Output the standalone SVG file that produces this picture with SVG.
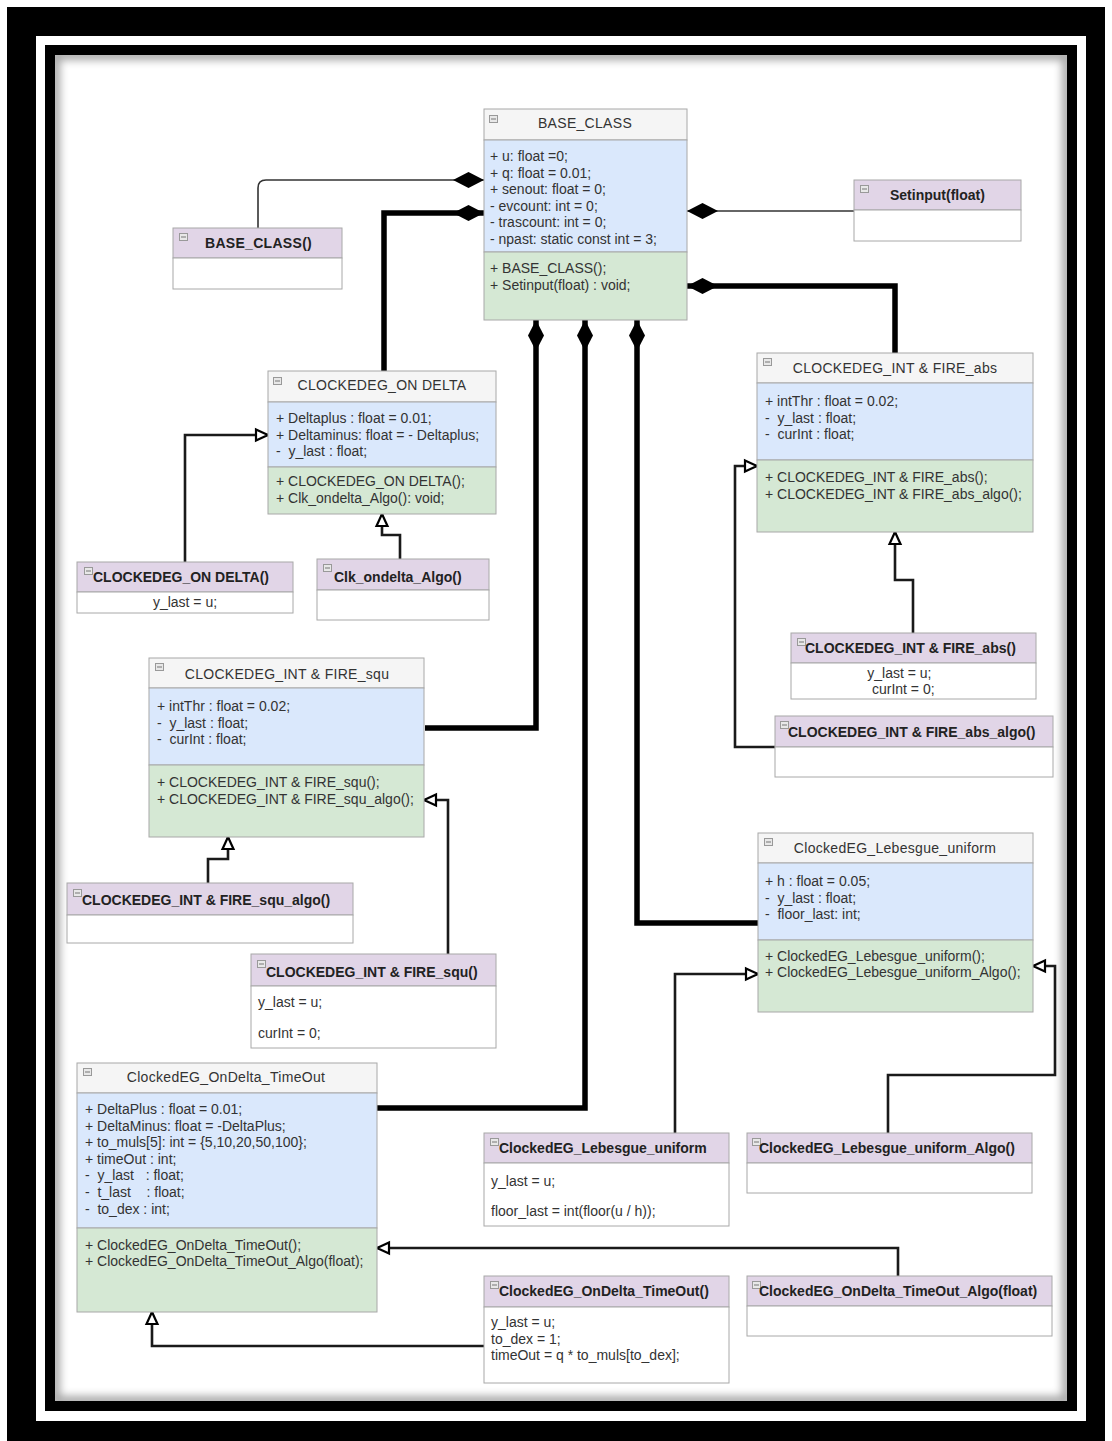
<svg xmlns="http://www.w3.org/2000/svg" width="1112" height="1441" viewBox="0 0 1112 1441">
  <defs>
    <style>
      .hdr { fill: #f5f5f5; stroke: #a8a8a8; stroke-width: 1; }
      .att { fill: #dae8fc; stroke: #a8a8a8; stroke-width: 1; }
      .mth { fill: #d5e8d4; stroke: #a8a8a8; stroke-width: 1; }
      .ph  { fill: #e1d5e7; stroke: #a8a8a8; stroke-width: 1; }
      .bd  { fill: #ffffff; stroke: #a8a8a8; stroke-width: 1; }
      .tx  { font-family: "Liberation Sans", Arial, sans-serif; font-size: 14px; fill: #333; white-space: pre; }
      .ct  { font-family: "Liberation Sans", Arial, sans-serif; font-size: 14px; fill: #333; text-anchor: middle; letter-spacing: 0.3px; }
      .bt  { font-family: "Liberation Sans", Arial, sans-serif; font-size: 14px; font-weight: bold; fill: #222; }
      .thin  { fill: none; stroke: #333; stroke-width: 1.6; }
      .inh   { fill: none; stroke: #1a1a1a; stroke-width: 2.6; }
      .comp  { fill: none; stroke: #000; stroke-width: 5.5; }
    </style>
    <symbol id="fold" viewBox="0 0 9 8" width="9" height="8">
      <rect x="0.5" y="0.5" width="8" height="7" fill="#e8e8e8" stroke="#999" stroke-width="1"/>
      <line x1="2" y1="4" x2="7" y2="4" stroke="#777" stroke-width="1"/>
    </symbol>
    <marker id="dia" markerUnits="userSpaceOnUse" markerWidth="32" markerHeight="18" refX="31" refY="9" orient="auto">
      <path d="M0,9 L15.5,1 L31,9 L15.5,17 Z" fill="#000"/>
    </marker>
    <marker id="tri" markerUnits="userSpaceOnUse" markerWidth="16" markerHeight="16" refX="14" refY="8" orient="auto">
      <path d="M2,2.5 L14,8 L2,13.5 Z" fill="#fff" stroke="#000" stroke-width="2.2" stroke-linejoin="miter"/>
    </marker>
    <clipPath id="innerClip"><rect x="55" y="55" width="1012" height="1346"/></clipPath>
    <filter id="soft" x="-5%" y="-5%" width="110%" height="110%"><feGaussianBlur stdDeviation="4"/></filter>
  </defs>

  <!-- page frame -->
  <rect x="0" y="0" width="1112" height="1441" fill="#fff"/>
  <rect x="7" y="7" width="1098" height="1434" fill="#000"/>
  <rect x="36" y="36" width="1050" height="1385" fill="#fff"/>
  <rect x="45" y="45" width="1032" height="1366" fill="#000"/>
  <rect x="55" y="55" width="1012" height="1346" fill="#fff"/>
  <g clip-path="url(#innerClip)">
    <rect x="55" y="55" width="1012" height="1346" fill="none" stroke="#000" stroke-width="10" opacity="0.35" filter="url(#soft)"/>
  </g>

  <!-- connectors -->
  <g id="connectors">
    <path class="thin" d="M258,228 V188 Q258,180 266,180 H484" marker-end="url(#dia)"/>
    <path class="comp" d="M384,371 V213 H484" marker-end="url(#dia)"/>
    <path class="thin" d="M854,211 H687" marker-end="url(#dia)"/>
    <path class="comp" d="M895,353 V286 H687" marker-end="url(#dia)"/>
    <path class="comp" d="M425,728 H536 V320" marker-end="url(#dia)"/>
    <path class="comp" d="M377,1108 H585 V320" marker-end="url(#dia)"/>
    <path class="comp" d="M758,923 H637 V320" marker-end="url(#dia)"/>

    <path class="inh" d="M185,562 V435 H268" marker-end="url(#tri)"/>
    <path class="inh" d="M400,559 V535 H382 V514" marker-end="url(#tri)"/>
    <path class="inh" d="M913,633 V580 H895 V532" marker-end="url(#tri)"/>
    <path class="inh" d="M775,747 H735 V466 H757" marker-end="url(#tri)"/>
    <path class="inh" d="M208,883 V859 H228 V837" marker-end="url(#tri)"/>
    <path class="inh" d="M448,954 V800 H424" marker-end="url(#tri)"/>
    <path class="inh" d="M675,1133 V974 H758" marker-end="url(#tri)"/>
    <path class="inh" d="M888,1133 V1075 H1055 V966 H1033" marker-end="url(#tri)"/>
    <path class="inh" d="M898,1276 V1248 H377" marker-end="url(#tri)"/>
    <path class="inh" d="M484,1346 H152 V1312" marker-end="url(#tri)"/>
  </g>

  <!-- class: BASE_CLASS -->
  <g id="base-class">
    <rect class="hdr" x="484" y="109" width="203" height="31"/>
    <rect class="att" x="484" y="140" width="203" height="112"/>
    <rect class="mth" x="484" y="252" width="203" height="68"/>
    <use href="#fold" x="489" y="115"/>
    <text class="ct" x="585" y="128">BASE_CLASS</text>
    <text class="tx">
      <tspan x="490" y="161">+ u: float =0;</tspan>
      <tspan x="490" dy="16.6">+ q: float = 0.01;</tspan>
      <tspan x="490" dy="16.6">+ senout: float = 0;</tspan>
      <tspan x="490" dy="16.6">- evcount: int = 0;</tspan>
      <tspan x="490" dy="16.6">- trascount: int = 0;</tspan>
      <tspan x="490" dy="16.6">- npast: static const int = 3;</tspan>
    </text>
    <text class="tx">
      <tspan x="490" y="273">+ BASE_CLASS();</tspan>
      <tspan x="490" dy="16.6">+ Setinput(float) : void;</tspan>
    </text>
  </g>

  <!-- operation: BASE_CLASS() -->
  <g id="op-base-class">
    <rect class="ph" x="173" y="228" width="169" height="30"/>
    <rect class="bd" x="173" y="258" width="169" height="31"/>
    <use href="#fold" x="179" y="233"/>
    <text class="bt" x="205" y="248" letter-spacing="0.3">BASE_CLASS()</text>
  </g>

  <!-- operation: Setinput(float) -->
  <g id="op-setinput">
    <rect class="ph" x="854" y="180" width="167" height="30"/>
    <rect class="bd" x="854" y="210" width="167" height="31"/>
    <use href="#fold" x="860" y="185"/>
    <text class="bt" x="890" y="200">Setinput(float)</text>
  </g>

  <!-- class: CLOCKEDEG_ON DELTA -->
  <g id="on-delta">
    <rect class="hdr" x="268" y="371" width="228" height="31"/>
    <rect class="att" x="268" y="402" width="228" height="65"/>
    <rect class="mth" x="268" y="467" width="228" height="47"/>
    <use href="#fold" x="273" y="377"/>
    <text class="ct" x="382" y="390">CLOCKEDEG_ON DELTA</text>
    <text class="tx">
      <tspan x="276" y="423">+ Deltaplus : float = 0.01;</tspan>
      <tspan x="276" dy="16.6">+ Deltaminus: float = - Deltaplus;</tspan>
      <tspan x="276" dy="16.6">-  y_last : float;</tspan>
    </text>
    <text class="tx">
      <tspan x="276" y="486">+ CLOCKEDEG_ON DELTA();</tspan>
      <tspan x="276" dy="16.6">+ Clk_ondelta_Algo(): void;</tspan>
    </text>
  </g>

  <!-- operation: CLOCKEDEG_ON DELTA() -->
  <g id="op-on-delta">
    <rect class="ph" x="77" y="562" width="216" height="30"/>
    <rect class="bd" x="77" y="592" width="216" height="21"/>
    <use href="#fold" x="84" y="567"/>
    <text class="bt" x="93" y="582">CLOCKEDEG_ON DELTA()</text>
    <text class="tx" x="185" y="607" text-anchor="middle">y_last = u;</text>
  </g>

  <!-- operation: Clk_ondelta_Algo() -->
  <g id="op-clk-ondelta-algo">
    <rect class="ph" x="317" y="559" width="172" height="31"/>
    <rect class="bd" x="317" y="590" width="172" height="30"/>
    <use href="#fold" x="323" y="564"/>
    <text class="bt" x="334" y="582">Clk_ondelta_Algo()</text>
  </g>

  <!-- class: CLOCKEDEG_INT & FIRE_abs -->
  <g id="int-fire-abs">
    <rect class="hdr" x="757" y="353" width="276" height="30"/>
    <rect class="att" x="757" y="383" width="276" height="77"/>
    <rect class="mth" x="757" y="460" width="276" height="72"/>
    <use href="#fold" x="763" y="358"/>
    <text class="ct" x="895" y="373">CLOCKEDEG_INT &amp; FIRE_abs</text>
    <text class="tx">
      <tspan x="765" y="406">+ intThr : float = 0.02;</tspan>
      <tspan x="765" dy="16.6">-  y_last : float;</tspan>
      <tspan x="765" dy="16.6">-  curInt : float;</tspan>
    </text>
    <text class="tx">
      <tspan x="765" y="482">+ CLOCKEDEG_INT &amp; FIRE_abs();</tspan>
      <tspan x="765" dy="16.6">+ CLOCKEDEG_INT &amp; FIRE_abs_algo();</tspan>
    </text>
  </g>

  <!-- operation: CLOCKEDEG_INT & FIRE_abs() -->
  <g id="op-int-fire-abs">
    <rect class="ph" x="791" y="633" width="245" height="30"/>
    <rect class="bd" x="791" y="663" width="245" height="36"/>
    <use href="#fold" x="797" y="638"/>
    <text class="bt" x="805" y="653">CLOCKEDEG_INT &amp; FIRE_abs()</text>
    <text class="tx" text-anchor="middle">
      <tspan x="913" y="678">y_last = u;</tspan>
      <tspan x="913" dy="16">curInt = 0;</tspan>
    </text>
  </g>

  <!-- operation: CLOCKEDEG_INT & FIRE_abs_algo() -->
  <g id="op-int-fire-abs-algo">
    <rect class="ph" x="775" y="716" width="278" height="31"/>
    <rect class="bd" x="775" y="747" width="278" height="30"/>
    <use href="#fold" x="780" y="721"/>
    <text class="bt" x="788" y="737">CLOCKEDEG_INT &amp; FIRE_abs_algo()</text>
  </g>

  <!-- class: CLOCKEDEG_INT & FIRE_squ -->
  <g id="int-fire-squ">
    <rect class="hdr" x="149" y="658" width="275" height="30"/>
    <rect class="att" x="149" y="688" width="275" height="77"/>
    <rect class="mth" x="149" y="765" width="275" height="72"/>
    <use href="#fold" x="155" y="663"/>
    <text class="ct" x="287" y="679">CLOCKEDEG_INT &amp; FIRE_squ</text>
    <text class="tx">
      <tspan x="157" y="711">+ intThr : float = 0.02;</tspan>
      <tspan x="157" dy="16.6">-  y_last : float;</tspan>
      <tspan x="157" dy="16.6">-  curInt : float;</tspan>
    </text>
    <text class="tx">
      <tspan x="157" y="787">+ CLOCKEDEG_INT &amp; FIRE_squ();</tspan>
      <tspan x="157" dy="16.6">+ CLOCKEDEG_INT &amp; FIRE_squ_algo();</tspan>
    </text>
  </g>

  <!-- operation: CLOCKEDEG_INT & FIRE_squ_algo() -->
  <g id="op-int-fire-squ-algo">
    <rect class="ph" x="67" y="883" width="286" height="32"/>
    <rect class="bd" x="67" y="915" width="286" height="28"/>
    <use href="#fold" x="73" y="889"/>
    <text class="bt" x="82" y="905">CLOCKEDEG_INT &amp; FIRE_squ_algo()</text>
  </g>

  <!-- operation: CLOCKEDEG_INT & FIRE_squ() -->
  <g id="op-int-fire-squ">
    <rect class="ph" x="251" y="954" width="245" height="32"/>
    <rect class="bd" x="251" y="986" width="245" height="62"/>
    <use href="#fold" x="257" y="960"/>
    <text class="bt" x="266" y="977">CLOCKEDEG_INT &amp; FIRE_squ()</text>
    <text class="tx" x="258" y="1007">y_last = u;</text>
    <text class="tx" x="258" y="1038">curInt = 0;</text>
  </g>

  <!-- class: ClockedEG_Lebesgue_uniform -->
  <g id="lebesgue-uniform">
    <rect class="hdr" x="758" y="833" width="275" height="30"/>
    <rect class="att" x="758" y="863" width="275" height="77"/>
    <rect class="mth" x="758" y="940" width="275" height="72"/>
    <use href="#fold" x="764" y="838"/>
    <text class="ct" x="895" y="853">ClockedEG_Lebesgue_uniform</text>
    <text class="tx">
      <tspan x="765" y="886">+ h : float = 0.05;</tspan>
      <tspan x="765" dy="16.6">-  y_last : float;</tspan>
      <tspan x="765" dy="16.6">-  floor_last: int;</tspan>
    </text>
    <text class="tx">
      <tspan x="765" y="961">+ ClockedEG_Lebesgue_uniform();</tspan>
      <tspan x="765" dy="16">+ ClockedEG_Lebesgue_uniform_Algo();</tspan>
    </text>
  </g>

  <!-- operation: ClockedEG_Lebesgue_uniform -->
  <g id="op-lebesgue-uniform">
    <rect class="ph" x="484" y="1133" width="245" height="30"/>
    <rect class="bd" x="484" y="1163" width="245" height="63"/>
    <use href="#fold" x="490" y="1138"/>
    <text class="bt" x="499" y="1153">ClockedEG_Lebesgue_uniform</text>
    <text class="tx" x="491" y="1186">y_last = u;</text>
    <text class="tx" x="491" y="1216">floor_last = int(floor(u / h));</text>
  </g>

  <!-- operation: ClockedEG_Lebesgue_uniform_Algo() -->
  <g id="op-lebesgue-uniform-algo">
    <rect class="ph" x="747" y="1133" width="285" height="30"/>
    <rect class="bd" x="747" y="1163" width="285" height="30"/>
    <use href="#fold" x="752" y="1138"/>
    <text class="bt" x="759" y="1153">ClockedEG_Lebesgue_uniform_Algo()</text>
  </g>

  <!-- class: ClockedEG_OnDelta_TimeOut -->
  <g id="ondelta-timeout">
    <rect class="hdr" x="77" y="1063" width="300" height="30"/>
    <rect class="att" x="77" y="1093" width="300" height="135"/>
    <rect class="mth" x="77" y="1228" width="300" height="84"/>
    <use href="#fold" x="83" y="1068"/>
    <text class="ct" x="226" y="1082">ClockedEG_OnDelta_TimeOut</text>
    <text class="tx">
      <tspan x="85" y="1114">+ DeltaPlus : float = 0.01;</tspan>
      <tspan x="85" dy="16.6">+ DeltaMinus: float = -DeltaPlus;</tspan>
      <tspan x="85" dy="16.6">+ to_muls[5]: int = {5,10,20,50,100};</tspan>
      <tspan x="85" dy="16.6">+ timeOut : int;</tspan>
      <tspan x="85" dy="16.6">-  y_last   : float;</tspan>
      <tspan x="85" dy="16.6">-  t_last    : float;</tspan>
      <tspan x="85" dy="16.6">-  to_dex : int;</tspan>
    </text>
    <text class="tx">
      <tspan x="85" y="1250">+ ClockedEG_OnDelta_TimeOut();</tspan>
      <tspan x="85" dy="16">+ ClockedEG_OnDelta_TimeOut_Algo(float);</tspan>
    </text>
  </g>

  <!-- operation: ClockedEG_OnDelta_TimeOut() -->
  <g id="op-ondelta-timeout">
    <rect class="ph" x="484" y="1276" width="245" height="31"/>
    <rect class="bd" x="484" y="1307" width="245" height="76"/>
    <use href="#fold" x="490" y="1281"/>
    <text class="bt" x="499" y="1296">ClockedEG_OnDelta_TimeOut()</text>
    <text class="tx">
      <tspan x="491" y="1327">y_last = u;</tspan>
      <tspan x="491" dy="16.6">to_dex = 1;</tspan>
      <tspan x="491" dy="16.6">timeOut = q * to_muls[to_dex];</tspan>
    </text>
  </g>

  <!-- operation: ClockedEG_OnDelta_TimeOut_Algo(float) -->
  <g id="op-ondelta-timeout-algo">
    <rect class="ph" x="747" y="1276" width="305" height="30"/>
    <rect class="bd" x="747" y="1306" width="305" height="30"/>
    <use href="#fold" x="752" y="1281"/>
    <text class="bt" x="759" y="1296">ClockedEG_OnDelta_TimeOut_Algo(float)</text>
  </g>
</svg>
